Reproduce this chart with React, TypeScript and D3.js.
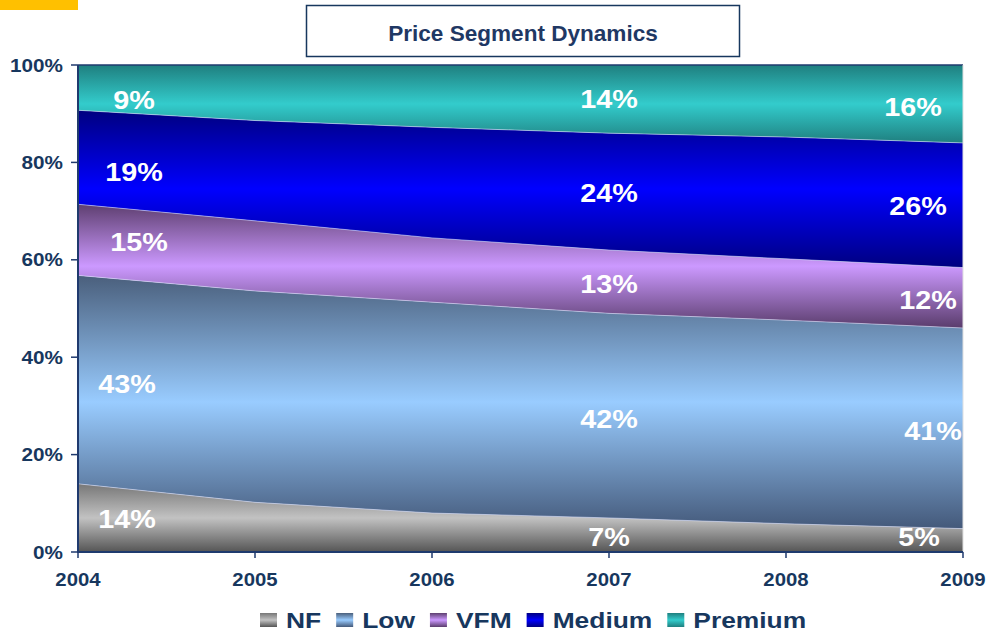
import React, { useEffect, useRef } from "react";
import * as d3 from "d3";

const years = [2004, 2005, 2006, 2007, 2008, 2009];
const seriesNames = ["NF", "Low", "VFM", "Medium", "Premium"];
const nf = [14, 10.2, 8, 7, 5.8, 4.8];
const low = [42.8, 43.4, 43.3, 42, 41.8, 41.2];
const vfm = [14.6, 14.4, 13.2, 13, 12.6, 12.4];
const medium = [19.3, 20.6, 22.7, 24, 25, 25.6];
const premium = [9.3, 11.4, 12.8, 14, 14.8, 16];
const yTicks = [0, 20, 40, 60, 80, 100];
const labelYears = [2004, 2007, 2009];
const title = "Price Segment Dynamics";

const gradients: Record<string, [string, string, string]> = {
  NF: ["#777777", "#c2c2c2", "#555555"],
  Low: ["#4a5f7c", "#99ccff", "#44597a"],
  VFM: ["#5e3f70", "#cc99ff", "#5a3c6c"],
  Medium: ["#000080", "#0000ff", "#000080"],
  Premium: ["#1f7f7f", "#33cccc", "#1f7f7f"],
};

// label placement tweaks (pixels) per series and year: [dx, dy]
const labelShift: Record<string, Record<number, [number, number]>> = {
  NF: { 2004: [49, 1], 2007: [0, 2], 2009: [-44, -3] },
  Low: { 2004: [49, 4], 2007: [0, 3], 2009: [-30, 3] },
  VFM: { 2004: [61, 2], 2007: [0, 2], 2009: [-35, 2] },
  Medium: { 2004: [56, 15], 2007: [0, 1], 2009: [-45, 1] },
  Premium: { 2004: [56, 12], 2007: [0, 0], 2009: [-50, 3] },
};

const NAVY = "#17375e";
const FONT = "'Liberation Sans', Arial, sans-serif";

export default function App() {
  const ref = useRef<SVGSVGElement>(null);

  useEffect(() => {
    const svg = d3.select(ref.current);
    svg.selectAll("*").remove();

    const x = d3.scaleLinear().domain([2004, 2009]).range([78, 963]);
    const y = d3.scaleLinear().domain([0, 100]).range([552, 65]);

    const addText = (
      g: any,
      tx: number,
      ty: number,
      str: string,
      size: number,
      sx: number,
      anchor: string,
      fill: string
    ) =>
      g
        .append("text")
        .attr("transform", `translate(${tx},${ty}) scale(${sx},1)`)
        .attr("text-anchor", anchor)
        .attr("font-family", FONT)
        .attr("font-weight", "bold")
        .attr("font-size", size)
        .attr("fill", fill)
        .text(str);

    const values = [nf, low, vfm, medium, premium];
    const rows = years.map((yr, i) => {
      const r: any = { year: yr };
      seriesNames.forEach((s, k) => (r[s] = values[k][i]));
      return r;
    });
    const stacked = d3.stack().keys(seriesNames)(rows);

    const defs = svg.append("defs");
    seriesNames.forEach((s) => {
      const g = defs
        .append("linearGradient")
        .attr("id", "grad-" + s)
        .attr("x1", 0)
        .attr("y1", 0)
        .attr("x2", 0)
        .attr("y2", 1);
      const c = gradients[s];
      g.append("stop").attr("offset", "0%").attr("stop-color", c[0]);
      g.append("stop").attr("offset", "50%").attr("stop-color", c[1]);
      g.append("stop").attr("offset", "100%").attr("stop-color", c[2]);
    });

    // orange corner bar
    svg.append("rect").attr("x", 0).attr("y", 0).attr("width", 78).attr("height", 10).attr("fill", "#ffc000");

    // title box
    svg
      .append("rect")
      .attr("x", 306.5)
      .attr("y", 5.5)
      .attr("width", 433)
      .attr("height", 51)
      .attr("fill", "#fff")
      .attr("stroke", NAVY)
      .attr("stroke-width", 1.5);
    addText(svg, 523, 41, title, 21.5, 1.05, "middle", "#1f3864");

    const area = d3
      .area<any>()
      .x((d: any) => x(d.data.year))
      .y0((d: any) => y(d[0]))
      .y1((d: any) => y(d[1]));

    const line = d3
      .line<any>()
      .x((d: any) => x(d.data.year))
      .y((d: any) => y(d[1]));

    stacked.forEach((layer) => {
      svg
        .append("path")
        .attr("d", area(layer as any) as string)
        .attr("fill", `url(#grad-${layer.key})`);
    });
    stacked.slice(0, 4).forEach((layer) => {
      svg
        .append("path")
        .attr("d", line(layer as any) as string)
        .attr("fill", "none")
        .attr("stroke", "rgba(220,225,255,0.55)")
        .attr("stroke-width", 1);
    });

    // frame lines
    svg.append("line").attr("x1", 78).attr("x2", 963).attr("y1", 65).attr("y2", 65).attr("stroke", "#1f3a6e").attr("stroke-width", 1.5);
    svg.append("line").attr("x1", 963).attr("x2", 963).attr("y1", 65).attr("y2", 552).attr("stroke", "#e0e0e0").attr("stroke-width", 1);

    // axes
    const axisG = svg.append("g");
    axisG.append("line").attr("x1", 78).attr("x2", 78).attr("y1", 65).attr("y2", 552).attr("stroke", "#1f3a6e").attr("stroke-width", 2);
    axisG.append("line").attr("x1", 77).attr("x2", 963).attr("y1", 552).attr("y2", 552).attr("stroke", "#1f3a6e").attr("stroke-width", 2);
    yTicks.forEach((t) => {
      axisG.append("line").attr("x1", 71).attr("x2", 78).attr("y1", y(t)).attr("y2", y(t)).attr("stroke", "#1f3a6e").attr("stroke-width", 1.5);
      addText(axisG, 63, y(t) + 6.5, t + "%", 18, 1.15, "end", NAVY);
    });
    years.forEach((yr) => {
      axisG.append("line").attr("x1", x(yr)).attr("x2", x(yr)).attr("y1", 552).attr("y2", 558).attr("stroke", "#1f3a6e").attr("stroke-width", 1.5);
      addText(axisG, x(yr), 586, String(yr), 18.5, 1.1, "middle", NAVY);
    });

    // data labels
    const fs = 25;
    stacked.forEach((layer) => {
      labelYears.forEach((yr) => {
        const i = years.indexOf(yr);
        const d = layer[i];
        const v = d[1] - d[0];
        const [dx, dy] = labelShift[layer.key][yr];
        const cy = (y(d[0]) + y(d[1])) / 2 + dy;
        addText(svg, x(yr) + dx, cy + fs * 0.358, Math.round(v) + "%", fs, 1.15, "middle", "#ffffff");
      });
    });

    // legend
    const lg = svg.append("g");
    let cx = 260;
    const lsx = 1.2;
    seriesNames.forEach((s) => {
      lg.append("rect").attr("x", cx).attr("y", 613).attr("width", 17).attr("height", 14).attr("fill", `url(#grad-${s})`);
      const t = addText(lg, cx + 26, 628, s, 22, lsx, "start", NAVY);
      const w = (t.node() as SVGTextElement).getComputedTextLength() * lsx;
      cx = cx + 26 + w + 15;
    });
  }, []);

  return (
    <svg
      ref={ref}
      width={987}
      height={634}
      style={{ position: "absolute", left: 0, top: 0, background: "#fff" }}
    />
  );
}
